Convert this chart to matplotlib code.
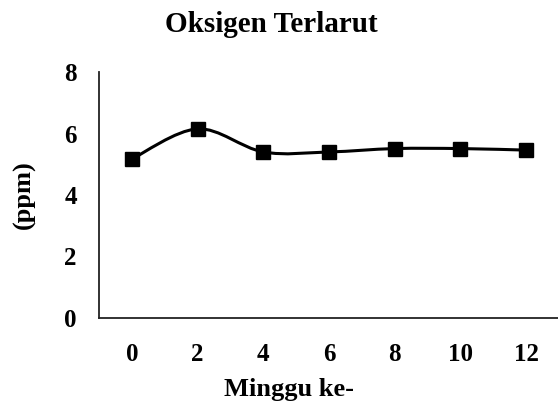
import matplotlib
matplotlib.use("Agg")
import matplotlib.pyplot as plt
from matplotlib.path import Path
from matplotlib.patches import PathPatch

# Data
minggu = ["0", "2", "4", "6", "8", "10", "12"]
oksigen = [5.17, 6.15, 5.40, 5.40, 5.51, 5.51, 5.46]
y_ticks = [0, 2, 4, 6, 8]

plt.rcParams['font.family'] = ['Liberation Serif', 'DejaVu Serif']
plt.rcParams['font.weight'] = 'bold'


# Build a smoothed (Catmull-Rom style) bezier path through the points
def smooth_path(xs, ys):
    pts = list(zip(xs, ys))
    n = len(pts)
    verts = [pts[0]]
    codes = [Path.MOVETO]
    for i in range(n - 1):
        p0 = pts[max(i - 1, 0)]
        p1 = pts[i]
        p2 = pts[i + 1]
        p3 = pts[min(i + 2, n - 1)]
        c1 = (p1[0] + (p2[0] - p0[0]) / 6, p1[1] + (p2[1] - p0[1]) / 6)
        c2 = (p2[0] - (p3[0] - p1[0]) / 6, p2[1] - (p3[1] - p1[1]) / 6)
        verts += [c1, c2, p2]
        codes += [Path.CURVE4] * 3
    return Path(verts, codes)


fig = plt.figure(figsize=(5.58, 4.16), dpi=100)
ax = fig.add_axes([0.1774, 0.2356, 0.8244, 0.5913])

x = list(range(len(minggu)))
ax.add_patch(PathPatch(smooth_path(x, oksigen), facecolor='none',
                       edgecolor='black', linewidth=2.2, zorder=2))
ax.plot(x, oksigen, linestyle='none', marker='s', markersize=9.5,
        color='black', zorder=3)

ax.set_xlim(-0.5, len(minggu) - 0.5)
ax.set_ylim(0, 8)
ax.set_xticks(x)
ax.set_xticklabels(minggu)
ax.set_yticks(y_ticks)
ax.tick_params(axis='both', length=0, labelsize=18)
ax.tick_params(axis='x', pad=18)
ax.tick_params(axis='y', pad=16)

for side in ['top', 'right']:
    ax.spines[side].set_visible(False)
for side in ['left', 'bottom']:
    ax.spines[side].set_linewidth(1.3)
    ax.spines[side].set_color('#222222')

fig.text(0.486, 0.94, "Oksigen Terlarut", ha='center', va='center',
         fontsize=21, fontweight='bold')
ax.set_xlabel("Minggu ke-", fontsize=19, fontweight='bold', labelpad=10)
ax.xaxis.set_label_coords(0.413, -0.245)
ax.set_ylabel("(ppm)", fontsize=19, fontweight='bold', labelpad=20)

fig.savefig("out.png", dpi=100)
